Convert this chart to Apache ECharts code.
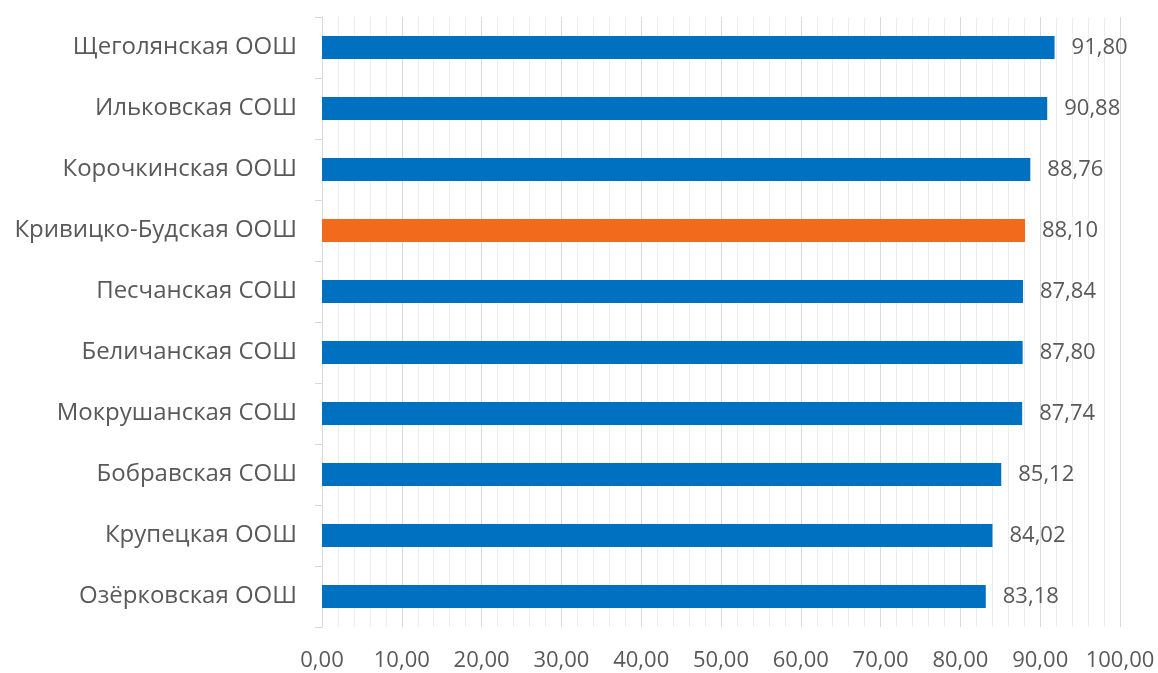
<!DOCTYPE html>
<html>
<head>
<meta charset="utf-8">
<script src="https://cdn.jsdelivr.net/npm/echarts@6/dist/echarts.min.js"></script>
<style>
  html, body { margin: 0; padding: 0; background: #fff; }
  #chart { width: 1158px; height: 673px; }
</style>
</head>
<body>
<div id="chart"></div>
<script>
// школы сверху вниз
var schools = ['Щеголянская ООШ', 'Ильковская СОШ', 'Корочкинская ООШ', 'Кривицко-Будская ООШ',
    'Песчанская СОШ', 'Беличанская СОШ', 'Мокрушанская СОШ', 'Бобравская СОШ',
    'Крупецкая ООШ', 'Озёрковская ООШ'];
var scores = [91.80, 90.88, 88.76, 88.10, 87.84, 87.80, 87.74, 85.12, 84.02, 83.18];
var highlighted = 'Кривицко-Будская ООШ';

var chart = echarts.init(document.getElementById('chart'));

function fmt(v) {
    return v.toFixed(2).replace('.', ',');
}

var barData = schools.map(function (name, i) {
    return {
        value: scores[i],
        itemStyle: { color: name === highlighted ? '#f26a1b' : '#0070c0' }
    };
});

var option = {
    backgroundColor: '#fff',
    animation: false,
    grid: { left: 322, right: 38, top: 17, bottom: 46 },
    xAxis: {
        type: 'value',
        min: 0,
        max: 100,
        interval: 10,
        axisLine: { show: false },
        axisTick: { show: false },
        axisLabel: {
            margin: 23,
            color: '#595959',
            fontSize: 22,
            fontFamily: 'Open Sans',
            formatter: function (v) { return fmt(v); }
        },
        splitLine: { show: true, lineStyle: { color: '#d9d9d9', width: 1 } },
        minorTick: { show: false, splitNumber: 5 },
        minorSplitLine: { show: true, lineStyle: { color: '#ededed', width: 1 } }
    },
    yAxis: {
        type: 'category',
        inverse: true,
        data: schools,
        axisLine: { show: true, lineStyle: { color: '#d9d9d9' } },
        axisTick: { show: true, length: 7, lineStyle: { color: '#d9d9d9' } },
        axisLabel: {
            margin: 25,
            color: '#595959',
            fontSize: 24,
            fontFamily: 'Open Sans'
        }
    },
    series: [{
        type: 'bar',
        barWidth: '38%',
        data: barData,
        label: {
            show: true,
            position: 'right',
            distance: 17,
            color: '#595959',
            fontSize: 22,
            fontFamily: 'Open Sans',
            formatter: function (p) { return fmt(p.value); }
        }
    }]
};
chart.setOption(option);
</script>
</body>
</html>
